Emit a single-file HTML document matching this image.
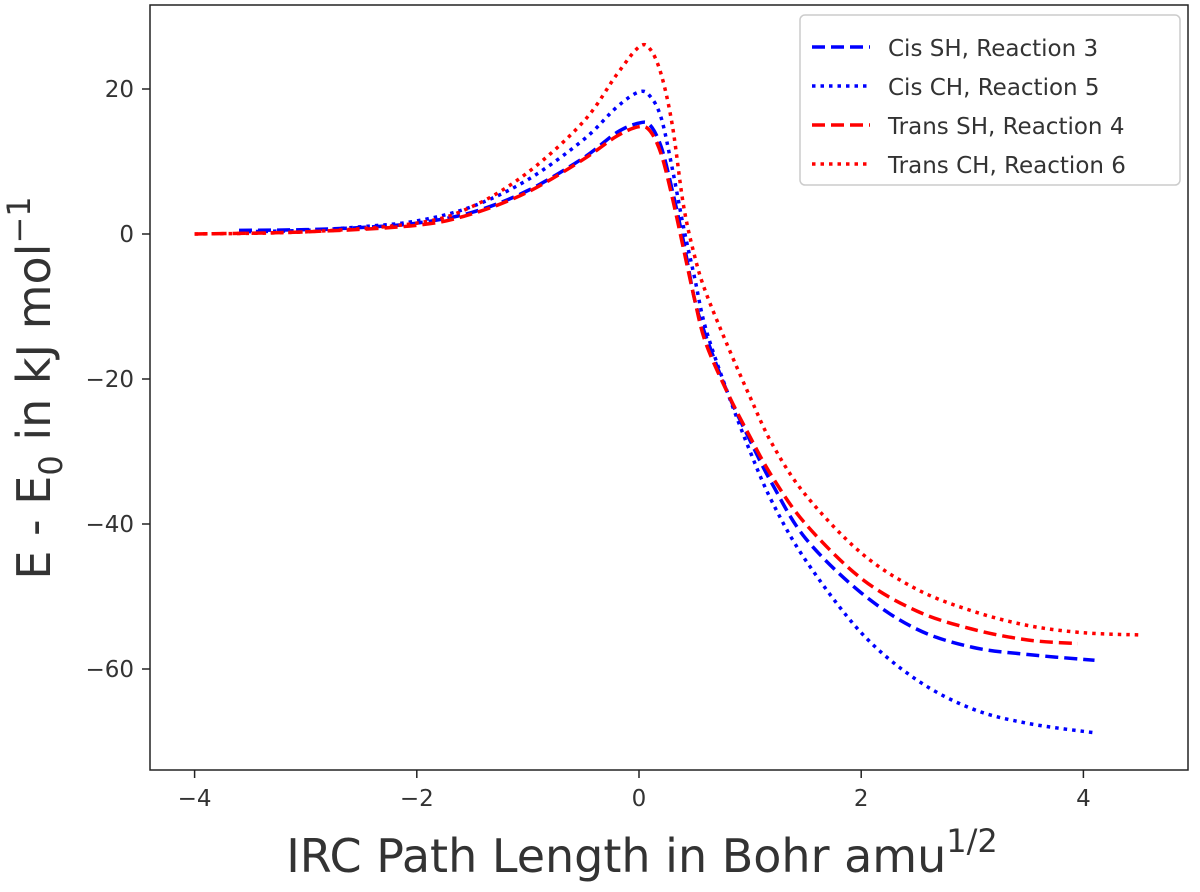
<!DOCTYPE html>
<html><head><meta charset="utf-8">
<style>
body{margin:0;background:#fff;font-family:"Liberation Sans","DejaVu Sans",sans-serif;}
svg text{font-family:"DejaVu Sans","Liberation Sans",sans-serif;}
</style></head>
<body>
<svg id="chart" width="1200" height="887" xmlns="http://www.w3.org/2000/svg">
<rect x="150" y="5" width="1038" height="765" fill="none" stroke="#222" stroke-width="1.5"/>
<g id="ticks"></g>
<g id="series"></g>
<text x="642" y="872" font-size="46" text-anchor="middle" fill="#333">IRC Path Length in  Bohr amu<tspan dy="-20" font-size="32">1/2</tspan></text>
<text transform="translate(50,388) rotate(-90)" font-size="46" text-anchor="middle" fill="#333">E - E<tspan dy="12" font-size="32">0</tspan><tspan dy="-12"> in kJ mol</tspan><tspan dy="-20" font-size="32">−1</tspan></text>
<g>
<rect x="800" y="15" width="380" height="170" rx="5" fill="#fff" stroke="#ccc" stroke-width="1.5"/>
<line x1="812" y1="47" x2="870" y2="47" stroke="#0000ff" stroke-width="3.5" stroke-dasharray="13,6"/>
<text x="888" y="56" font-size="23" fill="#333">Cis SH, Reaction 3</text>
<line x1="812" y1="86" x2="870" y2="86" stroke="#0000ff" stroke-width="3.5" stroke-dasharray="3.5,5"/>
<text x="888" y="95" font-size="23" fill="#333">Cis CH, Reaction 5</text>
<line x1="812" y1="125" x2="870" y2="125" stroke="#ff0000" stroke-width="3.5" stroke-dasharray="13,6"/>
<text x="888" y="134" font-size="23" fill="#333">Trans SH, Reaction 4</text>
<line x1="812" y1="164" x2="870" y2="164" stroke="#ff0000" stroke-width="3.5" stroke-dasharray="3.5,5"/>
<text x="888" y="173" font-size="23" fill="#333">Trans CH, Reaction 6</text>
</g>
</svg>
<script>
const xTicks=[-4,-2,0,2,4];
const yTicks=[20,0,-20,-40,-60];
const cisSH_x=[-3.6,-3,-2.5,-2,-1.5,-1,-0.5,-0.2,0,0.1,0.2,0.3,0.4,0.5,0.6,0.8,1.0,1.2,1.5,2,2.5,3,3.5,4.1];
const cisSH_y=[0.5,0.6,0.9,1.5,3,6,10.5,14,15.3,15,12,6,-1,-9,-14,-22,-28.5,-34.5,-42,-49.5,-54.5,-57,-58,-58.8];
const cisCH_x=[-3.6,-3,-2.5,-2,-1.5,-1,-0.5,-0.2,0,0.1,0.2,0.3,0.4,0.5,0.6,0.8,1.0,1.2,1.5,2,2.5,3,3.5,4.1];
const cisCH_y=[0.3,0.5,1,1.8,3.8,7.5,13,17.5,19.6,19,16,9,1,-6,-13,-22,-30,-37,-45,-55,-61.5,-65.5,-67.5,-68.8];
const transSH_x=[-4,-3,-2,-1.5,-1,-0.5,-0.2,0,0.1,0.2,0.3,0.4,0.5,0.6,0.8,1,1.2,1.5,2,2.5,3,3.5,3.95];
const transSH_y=[0,0.3,1.2,2.8,5.8,10.3,13.5,14.8,14.2,11,5,-2,-9,-15,-22,-28,-33.5,-40,-47.5,-52,-54.5,-56,-56.5];
const transCH_x=[-4,-3,-2,-1.5,-1,-0.5,-0.2,0,0.1,0.2,0.3,0.4,0.5,0.6,0.8,1,1.2,1.5,2,2.5,3,3.5,4,4.5];
const transCH_y=[0,0.3,1.5,3.8,8.5,15.5,22,25.8,25.5,22,15,4,-3,-8,-15.5,-22.5,-29,-36,-44,-49,-52,-54,-55,-55.3];
const NS="http://www.w3.org/2000/svg";
const sx=v=>639+v*111.1;
const sy=v=>234-v*7.25;
const tg=document.getElementById('ticks');
function mk(tag,attrs,parent){const e=document.createElementNS(NS,tag);for(const k in attrs)e.setAttribute(k,attrs[k]);parent.appendChild(e);return e;}
xTicks.forEach(t=>{
 const l=mk('line',{x1:sx(t),x2:sx(t),y1:770,y2:778,stroke:'#222','stroke-width':1.5},tg);
 
 
 const tx=mk('text',{x:sx(t),y:806,'font-size':23,'text-anchor':'middle',fill:'#333'},tg);
 tx.textContent=(t<0?'−':'')+Math.abs(t);
 
 
});
yTicks.forEach(t=>{
 const l=mk('line',{x1:142,x2:150,y1:sy(t),y2:sy(t),stroke:'#222','stroke-width':1.5},tg);
 
 
 const tx=mk('text',{x:134,y:sy(t)+8,'font-size':23,'text-anchor':'end',fill:'#333'},tg);
 tx.textContent=(t<0?'−':'')+Math.abs(t);
 
 
});
function pathD(xs,ys){
 const p=xs.map((x,i)=>[sx(x),sy(ys[i])]);
 let d='M'+p[0][0]+','+p[0][1];
 for(let i=0;i<p.length-1;i++){
  const p0=p[i-1]||p[i],p1=p[i],p2=p[i+1],p3=p[i+2]||p2;
  const c1=[p1[0]+(p2[0]-p0[0])/6,p1[1]+(p2[1]-p0[1])/6];
  const c2=[p2[0]-(p3[0]-p1[0])/6,p2[1]-(p3[1]-p1[1])/6];
  d+=` C${c1[0]},${c1[1]} ${c2[0]},${c2[1]} ${p2[0]},${p2[1]}`;
 }
 return d;
}
const sg=document.getElementById('series');
const defs=[
 [cisSH_x,cisSH_y,'#0000ff','13,6','line-cis-sh'],
 [cisCH_x,cisCH_y,'#0000ff','3.5,5','line-cis-ch'],
 [transSH_x,transSH_y,'#ff0000','13,6','line-trans-sh'],
 [transCH_x,transCH_y,'#ff0000','3.5,5','line-trans-ch']
];
defs.forEach(s=>{
 const p=mk('path',{d:pathD(s[0],s[1]),fill:'none',stroke:s[2],'stroke-width':3.5,'stroke-dasharray':s[3]},sg);
 
 
});
</script>
</body></html>
